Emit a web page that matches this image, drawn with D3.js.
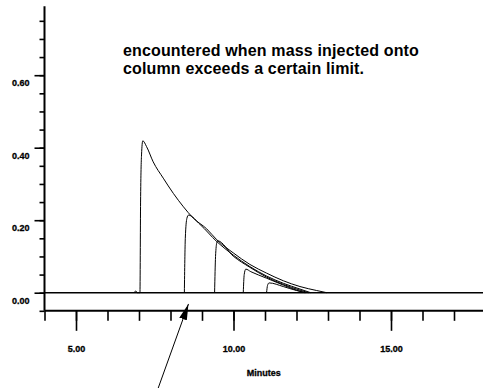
<!DOCTYPE html>
<html>
<head>
<meta charset="utf-8">
<script src="https://cdn.jsdelivr.net/npm/d3@7"></script>
<style>
  body { margin: 0; background: #fff; }
  svg { display: block; font-family: "Liberation Sans", Arial, sans-serif; }
</style>
</head>
<body>
<div id="chart"></div>
<script>
// chart size
var svgWidth = 483;
var svgHeight = 388;

// peaks: [minutes, AU]
var peak1 = [[6.85, 0], [6.90, 0.005], [6.94, 0], [7.03, 0], [7.05, 0.25], [7.08, 0.38], [7.12, 0.419],
  [7.24, 0.403], [7.45, 0.361], [7.77, 0.316], [8.09, 0.274], [8.41, 0.237], [8.72, 0.206],
  [9.15, 0.176], [9.47, 0.146], [9.99, 0.110], [10.52, 0.078], [11.05, 0.054], [11.58, 0.033],
  [12.11, 0.017], [12.64, 0.006], [12.96, 0]];
var peak2 = [[8.44, 0], [8.47, 0.15], [8.52, 0.205], [8.57, 0.214], [8.94, 0.188], [9.47, 0.141],
  [9.99, 0.104], [10.52, 0.072], [11.05, 0.046], [11.58, 0.026], [12.11, 0.010], [12.45, 0]];
var peak3 = [[9.40, 0], [9.43, 0.10], [9.47, 0.138], [9.50, 0.143], [9.99, 0.101], [10.52, 0.070],
  [11.05, 0.043], [11.58, 0.023], [12.11, 0.007], [12.38, 0]];
var peak4 = [[10.31, 0], [10.34, 0.05], [10.39, 0.065], [10.55, 0.058], [11.05, 0.040],
  [11.58, 0.021], [12.0, 0.007], [12.25, 0]];
var peak5 = [[11.05, 0], [11.08, 0.020], [11.13, 0.027], [11.58, 0.017], [12.0, 0.006], [12.3, 0]];
var peaks = [peak1, peak2, peak3, peak4, peak5];

// axis ticks
var xMajorTicks = [5, 10, 15];
var xMinorTicks = [4, 5, 6, 7, 8, 9, 10, 11, 12, 13, 14, 15, 16, 17];
var yMajorTicks = [0, 0.2, 0.4, 0.6];
var yMinorTicks = [-0.05, 0, 0.05, 0.1, 0.15, 0.2, 0.25, 0.3, 0.35, 0.4, 0.45, 0.5, 0.55, 0.6, 0.65, 0.7, 0.75];

// annotation
var noteLines = ["encountered when mass injected onto", "column exceeds a certain limit."];
var arrowFrom = [7.61, -0.263];
var arrowTo = [8.57, -0.031];

var svg = d3.select("#chart")
  .append("svg")
  .attr("width", svgWidth)
  .attr("height", svgHeight);

// scales
var x = d3.scaleLinear().domain([4, 18]).range([44.5, 485.5]);
var y = d3.scaleLinear().domain([0, 0.8]).range([292.7, 2.7]);
var yBottom = -0.05, yTop = 0.79;

// y axis: minor then major ticks
svg.append("g")
  .attr("transform", `translate(${x(4)},0)`)
  .call(d3.axisLeft(y).tickValues(yMinorTicks).tickSize(5).tickFormat(""))
  .call(g => g.select(".domain").remove())
  .call(g => g.selectAll("line").attr("stroke-width", 1.6));

svg.append("g")
  .attr("transform", `translate(${x(4)},0)`)
  .call(d3.axisLeft(y).tickValues(yMajorTicks).tickSize(10).tickFormat(d3.format(".2f")))
  .call(g => g.select(".domain").remove())
  .call(g => g.selectAll("line").attr("stroke-width", 1.6))
  .call(g => g.selectAll("text")
    .attr("x", -15).attr("dy", "1.2em")
    .style("font-size", "9px").style("font-weight", "bold")
    .attr("stroke", "#000").attr("stroke-width", 0.3));

svg.append("line")
  .attr("x1", x(4)).attr("x2", x(4))
  .attr("y1", y(yBottom)).attr("y2", y(yTop))
  .attr("stroke", "#000").attr("stroke-width", 2);

// x axis
svg.append("g")
  .attr("transform", `translate(0,${y(yBottom)})`)
  .call(d3.axisBottom(x).tickValues(xMinorTicks).tickSize(10).tickFormat(""))
  .call(g => g.select(".domain").remove())
  .call(g => g.selectAll("line").attr("stroke-width", 1.6));

svg.append("g")
  .attr("transform", `translate(0,${y(yBottom)})`)
  .call(d3.axisBottom(x).tickValues(xMajorTicks).tickSize(20).tickFormat(d3.format(".2f")))
  .call(g => g.select(".domain").remove())
  .call(g => g.selectAll("line").attr("stroke-width", 1.6))
  .call(g => g.selectAll("text")
    .attr("y", 35)
    .style("font-size", "9px").style("font-weight", "bold")
    .attr("stroke", "#000").attr("stroke-width", 0.3));

svg.append("line")
  .attr("x1", x(4)).attr("x2", svgWidth)
  .attr("y1", y(yBottom)).attr("y2", y(yBottom))
  .attr("stroke", "#000").attr("stroke-width", 2);

svg.append("text")
  .attr("x", (x(4) + svgWidth) / 2)
  .attr("y", 376)
  .attr("text-anchor", "middle")
  .style("font-size", "9px").style("font-weight", "bold")
  .attr("stroke", "#000").attr("stroke-width", 0.3)
  .text("Minutes");

// zero baseline
svg.append("line")
  .attr("x1", x(4)).attr("x2", svgWidth)
  .attr("y1", y(0)).attr("y2", y(0))
  .attr("stroke", "#000").attr("stroke-width", 1.4);

// peaks
var line = d3.line()
  .x(d => x(d[0]))
  .y(d => y(d[1]))
  .curve(d3.curveMonotoneX);

svg.selectAll(".peak")
  .data(peaks)
  .enter()
  .append("path")
  .attr("class", "peak")
  .attr("d", line)
  .attr("fill", "none")
  .attr("stroke", "#000")
  .attr("stroke-width", 1);

// annotation text
svg.selectAll(".note")
  .data(noteLines)
  .enter()
  .append("text")
  .attr("class", "note")
  .attr("x", 123)
  .attr("y", (d, i) => 56 + i * 18.3)
  .style("font-size", "16px").style("font-weight", "bold")
  .style("letter-spacing", "0.15px")
  .text(d => d);

// arrow
svg.append("defs").append("marker")
  .attr("id", "head")
  .attr("viewBox", "0 0 16 8")
  .attr("refX", 16).attr("refY", 4)
  .attr("markerWidth", 16).attr("markerHeight", 8)
  .attr("markerUnits", "userSpaceOnUse")
  .attr("orient", "auto")
  .append("path")
  .attr("d", "M0,0L16,4L0,8Z")
  .attr("fill", "#000");

svg.append("line")
  .attr("x1", x(arrowFrom[0])).attr("y1", y(arrowFrom[1]))
  .attr("x2", x(arrowTo[0])).attr("y2", y(arrowTo[1]))
  .attr("stroke", "#000").attr("stroke-width", 1)
  .attr("marker-end", "url(#head)");
</script>
</body>
</html>
